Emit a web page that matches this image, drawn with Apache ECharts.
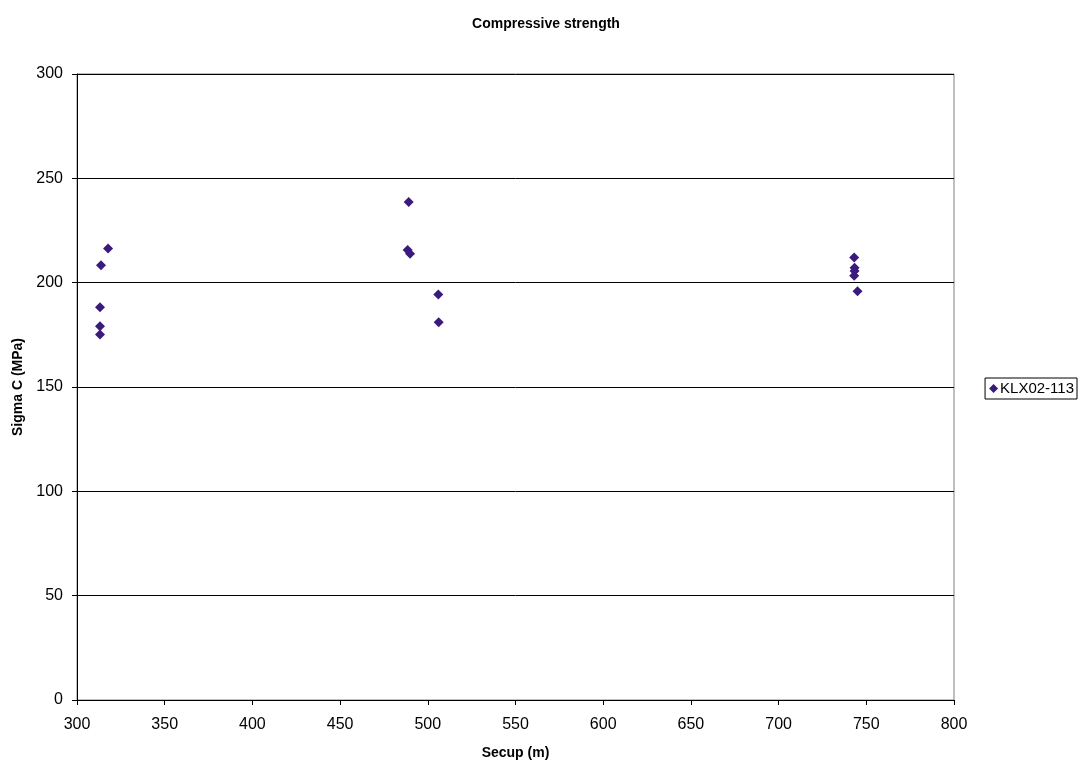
<!DOCTYPE html>
<html><head><meta charset="utf-8">
<script src="https://cdn.jsdelivr.net/npm/echarts@6/dist/echarts.min.js"></script>
<style>html,body{margin:0;padding:0;background:#fff}#c{width:1083px;height:765px}</style>
</head><body><div id="c"></div>
<script>
const secup = [313.1, 313.1, 313.1, 313.7, 317.7, 489.1, 488.5, 489.9, 506.0, 506.2, 743.1, 743.3, 743.3, 743.1, 745.0];
const sigmaC = [175.2, 179.1, 188.2, 208.3, 216.4, 238.6, 215.6, 213.8, 194.3, 181.0, 212.1, 207.2, 205.6, 203.3, 195.9];
const seriesName = 'KLX02-113';
const chart = echarts.init(document.getElementById('c'));
const font = 'Liberation Sans, Arial, sans-serif';
chart.setOption({
  animation: false,
  title: {text: 'Compressive strength', left: 541, top: 12, textAlign: 'center',
    textStyle: {fontFamily: font, fontSize: 14, fontWeight: 'bold', color: '#000'}},
  legend: {right: 6, top: 378, orient: 'vertical', itemWidth: 9, itemHeight: 9, itemGap: 0,
    padding: [3, 3, 3, 4], borderColor: '#000', borderWidth: 1,
    textStyle: {fontFamily: font, fontSize: 15, color: '#000', padding: [0,0,0,-3]},
    data: [{name: seriesName, icon: 'diamond'}]},
  grid: {left: 77, right: 129, top: 74, bottom: 63, show: true, borderColor: '#808080', borderWidth: 1},
  xAxis: {type: 'value', min: 300, max: 800, interval: 50, name: 'Secup (m)', nameLocation: 'middle', nameGap: 46,
    nameTextStyle: {fontFamily: font, fontSize: 14, fontWeight: 'bold', color: '#000'},
    axisLine: {lineStyle: {color: '#000'}}, axisTick: {show: true, length: 5, lineStyle: {color: '#000'}},
    axisLabel: {fontFamily: font, fontSize: 16, color: '#000', margin: 17}, splitLine: {show: false}},
  yAxis: {type: 'value', min: 0, max: 300, interval: 50, name: 'Sigma C (MPa)', nameLocation: 'middle', nameGap: 52,
    nameTextStyle: {fontFamily: font, fontSize: 14, fontWeight: 'bold', color: '#000'},
    axisLine: {show: true, lineStyle: {color: '#000'}}, axisTick: {show: true, length: 5, lineStyle: {color: '#000'}},
    axisLabel: {fontFamily: font, fontSize: 16, color: '#000', margin: 14},
    splitLine: {show: true, lineStyle: {color: '#000', width: 1}}},
  series: [{name: seriesName, type: 'scatter', symbol: 'diamond', symbolSize: 10,
    itemStyle: {color: '#3b1a7e', opacity: 1},
    data: secup.map((x, i) => [x, sigmaC[i]])}]
});
</script></body></html>
